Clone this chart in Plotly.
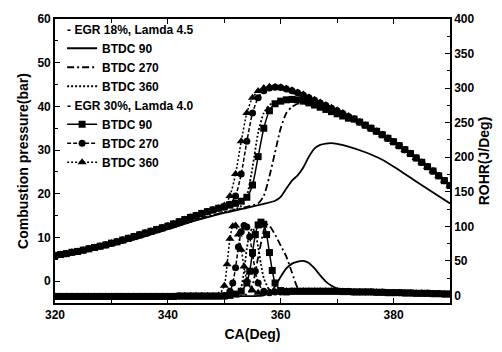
import plotly.graph_objects as go

# ---------------- Combustion pressure (bar), EGR 30%, Lamda 4.0 ----------------
ca30_motor = list(range(320, 350))
p30_motor = [5.9, 6.1, 6.3, 6.6, 6.8, 7.1, 7.4, 7.7, 8.0, 8.3, 8.7, 9.0, 9.4, 9.8, 10.2,
             10.6, 11.0, 11.4, 11.8, 12.2, 12.6, 13.1, 13.6, 14.1, 14.6, 15.0, 15.5, 15.9, 16.3, 16.7]
ca30_comb = list(range(350, 373))
p30_btdc90_comb = [17.0, 17.4, 17.8, 18.3, 19.2, 22.0, 28.5, 35.0, 39.0, 40.6, 41.2, 41.5, 41.6, 41.5,
                   41.2, 40.8, 40.3, 39.8, 39.3, 38.8, 38.3, 37.8, 37.3]
p30_btdc270_comb = [17.0, 17.6, 19.5, 24.5, 32.0, 38.5, 42.0, 43.6, 44.2, 44.4, 44.3, 44.0, 43.6, 43.1,
                    42.6, 42.0, 41.4, 40.8, 40.2, 39.6, 39.0, 38.4, 37.7]
p30_btdc360_comb = [17.3, 19.5, 24.5, 32.0, 38.5, 42.0, 43.5, 44.2, 44.5, 44.5, 44.4, 44.1, 43.7, 43.2,
                    42.7, 42.1, 41.5, 40.9, 40.3, 39.7, 39.1, 38.5, 37.8]
ca30_exp = list(range(373, 391))
p30_exp = [37.1, 36.4, 35.7, 35.0, 34.3, 33.5, 32.7, 31.9, 31.0, 30.1, 29.2, 28.2, 27.2, 26.2,
           25.2, 24.1, 23.0, 21.9]

# ---------------- Combustion pressure (bar), EGR 18%, Lamda 4.5 ----------------
ca18_btdc90 = [320, 325, 330, 335, 340, 345, 350, 354, 357, 359, 360, 361, 362, 363, 364, 365, 366,
               367, 368, 369, 370, 372, 375, 378, 381, 384, 387, 390]
p18_btdc90 = [5.6, 6.8, 8.2, 9.9, 11.9, 13.9, 15.6, 16.8, 17.7, 18.4, 19.3, 21.2, 23.0, 24.2, 26.0,
              28.5, 30.4, 31.2, 31.5, 31.6, 31.4, 30.8, 29.5, 27.8, 25.4, 22.8, 20.3, 17.8]
ca18_btdc270 = [320, 325, 330, 335, 340, 345, 350, 354, 356, 357, 358, 359, 360, 361, 362, 363, 364,
                365, 366, 368, 370, 372, 375, 380, 385, 390]
p18_btdc270 = [5.6, 6.8, 8.2, 9.9, 11.9, 14.0, 15.8, 17.0, 17.8, 19.5, 24.0, 29.5, 35.0, 38.5, 39.9,
               40.6, 41.0, 41.1, 41.0, 40.3, 39.1, 37.7, 35.5, 31.8, 27.3, 21.9]
ca18_btdc360 = [320, 325, 330, 335, 340, 345, 350, 352, 353, 354, 355, 356, 357, 358, 359, 360, 361,
                362, 364, 366, 368, 370, 372, 375, 380, 385, 390]
p18_btdc360 = [5.6, 6.8, 8.2, 9.9, 11.9, 14.0, 15.8, 16.5, 17.2, 19.5, 26.0, 34.0, 38.5, 40.3, 41.0,
               41.3, 41.3, 41.2, 40.7, 40.0, 39.2, 38.4, 37.4, 35.6, 32.0, 27.3, 22.0]

# ---------------- ROHR (J/Deg), EGR 30% ----------------
ca30_r_pre = list(range(320, 349))
r30_pre = [-1.5, -1.5, -1.5, -1.5, -1.5, -1.5, -1.5, -1.5, -1.5, -1.5, -1.5, -1.5, -1.5, -1.5, -1.5,
           -1.5, -1.5, -1.5, -1.5, -1.5, -1.5, -1.5, -1.0, -1.0, -1.0, -1.0, -1.0, -1.0, -1.0]
ca30_r_post = list(range(366, 391))
r30_post = [6, 6, 6, 6, 6, 5.5, 5.5, 5, 5, 5, 5, 4.5, 4.5, 4, 4, 4, 3.5, 3.5, 3, 3, 3, 2.5, 2.5, 2, 2]
ca30_r_btdc90 = [349, 350, 351, 352, 353, 354, 354.5, 355, 355.5, 356, 356.5, 357, 357.5, 358, 358.5,
                 359, 360, 361, 362, 363, 364, 365]
r30_btdc90 = [-1, -1, 0, 2, 6, 18, 35, 62, 88, 102, 106, 103, 88, 62, 36, 18, 7, 5, 6, 6, 6, 6]
ca30_r_btdc270 = [349, 350, 351, 351.5, 352, 352.5, 353, 353.5, 354, 354.5, 355, 355.5, 356, 357, 358,
                  359, 360, 361, 362, 363, 364, 365]
r30_btdc270 = [-1, 0, 6, 18, 40, 70, 92, 101, 99, 85, 60, 35, 18, 6, 4, 5, 5, 6, 6, 6, 6, 6]
ca30_r_btdc360 = [349, 350, 350.5, 351, 351.5, 352, 352.5, 353, 353.5, 354, 355, 356, 357, 358, 359,
                  360, 361, 362, 363, 364, 365]
r30_btdc360 = [0, 14, 45, 82, 100, 101, 88, 66, 42, 22, 7, 4, 4, 5, 5, 6, 6, 6, 6, 6, 6]

# ---------------- ROHR (J/Deg), EGR 18% ----------------
ca18_r_btdc90 = [320, 330, 340, 350, 355, 357, 358, 359, 360, 361, 362, 363, 364, 365, 366, 367, 368,
                 369, 370, 372, 375, 380, 385, 390]
r18_btdc90 = [-1, -1, -1, -1, -1, 0, 4, 13, 27, 39, 46, 49, 50, 47, 39, 29, 20, 14, 10, 7, 6, 5, 4, 3]
ca18_r_btdc270 = [320, 330, 340, 350, 353, 354, 355, 356, 357, 357.5, 358, 359, 360, 361, 362, 363,
                  364, 366, 370, 375, 380, 385, 390]
r18_btdc270 = [-1, -1, -1, -1, -1, 2, 15, 55, 94, 103, 101, 88, 72, 56, 33, 11, 5, 5, 5, 5, 4, 3, 2]
ca18_r_btdc360 = [320, 330, 340, 350, 352, 353, 353.5, 354, 354.5, 355, 355.5, 356, 356.5, 357, 358,
                  359, 360, 365, 370, 380, 390]
r18_btdc360 = [-1, -1, -1, -1, 0, 12, 35, 68, 90, 97, 90, 70, 45, 25, 8, 5, 5, 5, 5, 4, 2]

FONT = "Liberation Sans, Arial, sans-serif"
G18 = "- EGR 18%, Lamda 4.5"
G30 = "- EGR 30%, Lamda 4.0"

fig = go.Figure()

styles18 = [
    ("BTDC 90", ca18_btdc90, p18_btdc90, ca18_r_btdc90, r18_btdc90, dict(dash="solid", width=1.8)),
    ("BTDC 270", ca18_btdc270, p18_btdc270, ca18_r_btdc270, r18_btdc270, dict(dash="7px,3px,2px,3px", width=1.8)),
    ("BTDC 360", ca18_btdc360, p18_btdc360, ca18_r_btdc360, r18_btdc360, dict(dash="2px,2px", width=1.8)),
]
for i, (name, cap, pv, car, rv, ln) in enumerate(styles18):
    fig.add_trace(go.Scatter(x=cap, y=pv, mode="lines", name=name,
                             line=dict(color="black", shape="spline", smoothing=0.6, **ln),
                             legendgroup="g18", legendgrouptitle=dict(text=G18) if i == 0 else None,
                             yaxis="y"))
    fig.add_trace(go.Scatter(x=car, y=rv, mode="lines", name=name, showlegend=False,
                             line=dict(color="black", shape="spline", smoothing=0.6, **ln),
                             legendgroup="g18", yaxis="y2"))

styles30 = [
    ("BTDC 90", p30_btdc90_comb, ca30_r_btdc90, r30_btdc90, "square", dict(dash="solid", width=1.5)),
    ("BTDC 270", p30_btdc270_comb, ca30_r_btdc270, r30_btdc270, "circle", dict(dash="4px,2px", width=1.5)),
    ("BTDC 360", p30_btdc360_comb, ca30_r_btdc360, r30_btdc360, "triangle-up", dict(dash="2px,2px", width=1.5)),
]
for i, (name, pcomb, car, rv, sym, ln) in enumerate(styles30):
    xp = ca30_motor + ca30_comb + ca30_exp
    yp = p30_motor + pcomb + p30_exp
    xr = ca30_r_pre + car + ca30_r_post
    yr = r30_pre + rv + r30_post
    mk = dict(symbol=sym, size=7 if sym != "triangle-up" else 8, color="black")
    fig.add_trace(go.Scatter(x=xp, y=yp, mode="lines+markers", name=name,
                             line=dict(color="black", shape="spline", smoothing=0.6, **ln), marker=mk,
                             legendgroup="g30", legendgrouptitle=dict(text=G30) if i == 0 else None,
                             yaxis="y"))
    fig.add_trace(go.Scatter(x=xr, y=yr, mode="lines+markers", name=name, showlegend=False,
                             line=dict(color="black", shape="spline", smoothing=0.6, **ln), marker=mk,
                             legendgroup="g30", yaxis="y2"))

axis_common = dict(showline=True, linecolor="black", linewidth=1.6, ticks="inside", ticklen=5,
                   tickcolor="black", tickwidth=1.3, showgrid=False, zeroline=False,
                   tickfont=dict(family=FONT, size=12, color="black", weight="bold"))

fig.update_layout(
    width=502, height=352,
    margin=dict(l=55, r=50, t=14, b=47),
    paper_bgcolor="white", plot_bgcolor="white",
    font=dict(family=FONT, size=12, color="black", weight="bold"),
    xaxis=dict(range=[320, 390], dtick=20, tick0=320, mirror="ticks",
               minor=dict(dtick=10, ticks="inside", ticklen=4, tickcolor="black"),
               title=dict(text="CA(Deg)", font=dict(family=FONT, size=14, color="black", weight="bold"),
                          standoff=8),
               **axis_common),
    yaxis=dict(range=[-5, 60], dtick=10, mirror=True,
               minor=dict(dtick=5, ticks="inside", ticklen=3, tickcolor="black"),
               title=dict(text="Combustion pressure(bar)",
                          font=dict(family=FONT, size=14, color="black", weight="bold"), standoff=6),
               **axis_common),
    yaxis2=dict(range=[-11, 400], dtick=50, overlaying="y", side="right",
                minor=dict(dtick=25, ticks="inside", ticklen=3, tickcolor="black"),
                title=dict(text="ROHR(J/Deg)",
                           font=dict(family=FONT, size=14, color="black", weight="bold"), standoff=6),
                **axis_common),
    legend=dict(x=0.018, y=1.015, xanchor="left", yanchor="top", bgcolor="rgba(0,0,0,0)",
                tracegroupgap=0, itemwidth=30,
                font=dict(family=FONT, size=12, color="black", weight="bold"),
                grouptitlefont=dict(family=FONT, size=12, color="black", weight="bold")),
    showlegend=True,
)

fig.write_html("out.html")
